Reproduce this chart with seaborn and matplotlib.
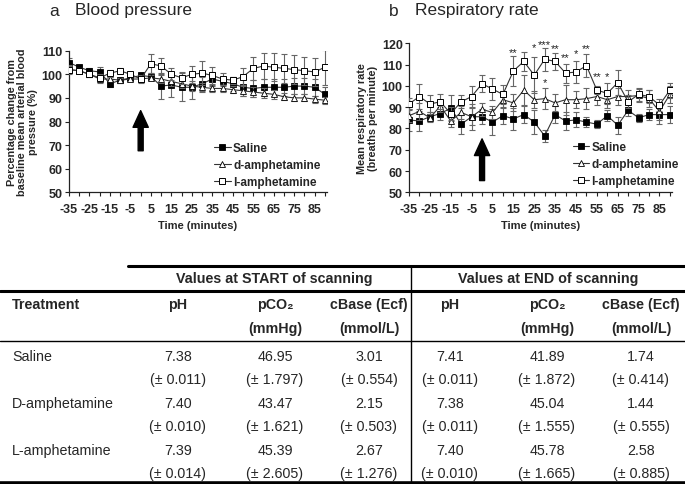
import numpy as np
import pandas as pd
import matplotlib
matplotlib.use("Agg")
import matplotlib.pyplot as plt
import seaborn as sns
from matplotlib.lines import Line2D

# ---------------- data ----------------
time = list(range(-35, 91, 5))
treatments = ["Saline", "d-amphetamine", "l-amphetamine"]

bp_saline = [105, 103, 101.5, 101, 96, 97.5, 98.5, 99.5, 99, 95, 95.5, 94.5, 94.5,
             96, 98, 97, 96, 94.5, 94, 94.5, 94.5, 94.5, 95, 95, 94.5, 91.5]
bp_damph = [102, 101.5, 100, 98, 98, 97.5, 98, 98, 98.5, 98, 97, 96, 95,
            94.5, 94, 94, 93.5, 93, 92.5, 92, 91.5, 90.5, 90, 90, 89.5, 89]
bp_lamph = [102, 101.5, 100, 98.5, 100.5, 101.5, 100, 98, 104.5, 103.5, 100, 98.5, 100,
            100.5, 99.5, 98, 97.5, 99, 102.5, 103.5, 103, 102.5, 102, 101.5, 101, 103]
bp_saline_err = [2, 1, 1, 2, 1.5, 1, 1, 1, 1.5, 5.5, 5, 6, 5,
                 3, 3, 2, 3, 3.5, 3.5, 3.5, 3.5, 3.5, 3.5, 3.5, 3.5, 3]
bp_damph_err = [1.5, 1, 1, 1.5, 1, 1, 1, 1, 1, 1.5, 2, 2, 2,
                2, 1.5, 1.5, 1.5, 2, 2, 2, 2, 1.5, 1.5, 1.5, 1.5, 1.5]
bp_lamph_err = [2, 1, 1, 1.5, 1.5, 1, 1, 1.5, 4, 3.5, 2.5, 2.5, 3.5,
                5, 3.5, 2.5, 1.5, 3.5, 5, 5.5, 6, 6, 6, 6, 6, 7.5]

rr_saline = [84, 83.5, 85.5, 87, 89.5, 82, 85.5, 85.5, 83, 86, 84.5, 86.5, 83,
             76.5, 86.5, 83.5, 84, 83, 82, 86, 81.5, 88.5, 85, 86.5, 86.5, 86.5]
rr_damph = [86, 88, 85, 90.5, 83.5, 87.5, 85.5, 89, 87.5, 93.5, 92, 98, 93.5,
            94, 92, 93.5, 93.5, 94, 95, 93.5, 95, 95, 95.5, 94, 88, 96]
rr_lamph = [91.5, 95, 91.5, 92.5, 87, 92.5, 95, 101, 98.5, 96, 107, 111.5, 105,
            112.5, 111.5, 106, 106.5, 109.5, 98, 96.5, 101.5, 92.5, 96, 95, 91, 98]
rr_saline_err = [5, 4.5, 2, 3, 6, 4.5, 6, 3.5, 6, 4, 5, 4, 5.5,
                 3, 4, 4, 3.5, 2.5, 2, 2.5, 4, 2.5, 2, 2.5, 4.5, 4]
rr_damph_err = [3, 4, 2, 3, 3, 3, 4, 3, 3, 4, 4, 7, 4,
                5, 4, 7, 4, 5, 4, 4, 4, 3, 3, 4, 4, 4]
rr_lamph_err = [3, 6, 4, 3.5, 3, 3, 5, 4, 5, 4.5, 7, 4.5, 8.5,
                5.5, 4, 4.5, 5, 5.5, 2, 5, 6, 3, 3, 3, 3, 3.5]

# significance marks (time, value, label)
sig_time = [15, 25, 30, 35, 40, 45, 50, 55, 60, 30]
sig_value = [117.3, 119.7, 121.0, 119.5, 115.3, 117.0, 119.5, 106.4, 106.4, 103.2]
sig_label = ["**", "*", "***", "**", "**", "*", "**", "**", "*", "*"]

# table
col_headers = ["pH", "pCO\u2082", "cBase (Ecf)", "pH", "pCO\u2082", "cBase (Ecf)"]
col_units = ["", "(mmHg)", "(mmol/L)", "", "(mmHg)", "(mmol/L)"]
row_names = ["Saline", "D-amphetamine", "L-amphetamine"]
table_values = [["7.38", "46.95", "3.01", "7.41", "41.89", "1.74"],
                ["7.40", "43.47", "2.15", "7.38", "45.04", "1.44"],
                ["7.39", "45.39", "2.67", "7.40", "45.78", "2.58"]]
table_sems = [["0.011", "1.797", "0.554", "0.011", "1.872", "0.414"],
              ["0.010", "1.621", "0.503", "0.011", "1.555", "0.555"],
              ["0.014", "2.605", "1.276", "0.010", "1.665", "0.885"]]

# ---------------- style ----------------
sns.set_theme(style="white")
plt.rcParams["font.family"] = ["Liberation Sans", "DejaVu Sans"]

fig = plt.figure(figsize=(6.85, 4.85), dpi=100)
W, H = 685, 485


def ax_rect(x0, x1, ytop, ybot):
    return [x0 / W, 1 - ybot / H, (x1 - x0) / W, (ybot - ytop) / H]


styles = {
    "Saline": dict(marker="s", markersize=4.4, markerfacecolor="black", mec="black", mew=0.6),
    "d-amphetamine": dict(marker="^", markersize=3.8, markerfacecolor="white", mec="black", mew=0.6),
    "l-amphetamine": dict(marker="s", markersize=5.0, markerfacecolor="white", mec="black", mew=0.7),
}


def draw_panel(ax, series, errs, ylim, yticks):
    df = pd.DataFrame({"time": time * 3,
                       "value": sum(series, []),
                       "treatment": sum([[t] * len(time) for t in treatments], [])})
    for i, t in enumerate(treatments):
        sub = df[df.treatment == t]
        ax.errorbar(sub.time, sub.value, yerr=errs[i], fmt="none", ecolor="#666666",
                    elinewidth=0.8, capsize=2.3, capthick=0.8, zorder=2 + i)
        sns.lineplot(data=sub, x="time", y="value", color="#333333", linewidth=0.8,
                     errorbar=None, estimator=None, ax=ax, zorder=3 + i, **styles[t])
    ax.set_xlim(-35, 91)
    ax.set_ylim(*ylim)
    ax.set_xticks(time)
    ax.set_xticklabels([str(t) if (t + 35) % 10 == 0 else "" for t in time])
    ax.set_yticks(yticks)
    ax.set_yticklabels([str(v) for v in yticks])
    for s in ["top", "right"]:
        ax.spines[s].set_visible(False)
    for s in ["left", "bottom"]:
        ax.spines[s].set_color("#222222")
        ax.spines[s].set_linewidth(0.9)
    ax.tick_params(axis="both", direction="out", length=3, width=0.8, color="#222222",
                   labelsize=9, bottom=True, left=True)
    ax.tick_params(axis="x", pad=4.5)
    ax.tick_params(axis="y", pad=1.5)
    for lab in ax.get_xticklabels() + ax.get_yticklabels():
        lab.set_fontweight("bold")
    ax.set_xlabel("Time (minutes)", fontsize=8, fontweight="bold", labelpad=3.5)
    handles = [Line2D([], [], color="#333333", linewidth=0.8, **styles[t]) for t in treatments]
    return handles


leg_kw = dict(loc="upper left", frameon=False, prop={"weight": "bold", "size": 8.5},
              handlelength=1.4, handletextpad=0.2, labelspacing=0.42, borderpad=0)

# Panel a
axa = fig.add_axes(ax_rect(69, 327, 51.7, 193.3))
ha = draw_panel(axa, [bp_saline, bp_damph, bp_lamph],
                [bp_saline_err, bp_damph_err, bp_lamph_err], (50, 110), list(range(50, 111, 10)))
axa.set_ylabel("Percentage change from\nbaseline mean arterial blood\npressure (%)",
               fontsize=7.8, fontweight="bold", labelpad=3, linespacing=1.05)
axa.legend(ha, treatments, bbox_to_anchor=(0.54, 0.395), **leg_kw)
axa.annotate("", xy=(0, 84.6), xytext=(0, 67.6),
             arrowprops=dict(width=3.6, headwidth=11, headlength=12, color="black"))

# Panel b
axb = fig.add_axes(ax_rect(409, 672, 44.3, 193.3))
hb = draw_panel(axb, [rr_saline, rr_damph, rr_lamph],
                [rr_saline_err, rr_damph_err, rr_lamph_err], (50, 120), list(range(50, 121, 10)))
axb.set_ylabel("Mean respiratory rate\n(breaths per minute)",
               fontsize=7.8, fontweight="bold", labelpad=3, linespacing=1.05)
axb.legend(hb, treatments, bbox_to_anchor=(0.6, 0.385), **leg_kw)
axb.annotate("", xy=(0, 75.1), xytext=(0, 55.5),
             arrowprops=dict(width=3.6, headwidth=11, headlength=12, color="black"))
for t, v, s in zip(sig_time, sig_value, sig_label):
    axb.text(t, v - 3, s, ha="center", va="baseline", fontsize=8, color="#222222")

# Titles
fig.text(49 / W, 1 - 11 / H, "a", fontsize=12.5, va="center", ha="left")
fig.text(75 / W, 1 - 11 / H, "Blood pressure", fontsize=12.5, va="center", ha="left")
fig.text(389 / W, 1 - 11 / H, "b", fontsize=12.5, va="center", ha="left")
fig.text(415 / W, 1 - 11 / H, "Respiratory rate", fontsize=12.5, va="center", ha="left")

# ---------------- table ----------------
tax = fig.add_axes([0, 0, 1, 1], zorder=-1)
tax.set_xlim(0, W)
tax.set_ylim(H, 0)
tax.axis("off")

col_x = [178, 275, 369, 450, 547, 641]
tax.plot([128, W], [267, 267], color="black", lw=2.2)
tax.plot([0, W], [292, 292], color="black", lw=2.2)
tax.plot([0, W], [342, 342], color="black", lw=1.0)
tax.plot([0, W], [484, 484], color="black", lw=2.6)
tax.plot([411, 411], [267, 485], color="black", lw=1.0)

fs = 10.3
tax.text(274, 279, "Values at START of scanning", ha="center", va="center",
         fontsize=fs, fontweight="bold")
tax.text(548, 279, "Values at END of scanning", ha="center", va="center",
         fontsize=fs, fontweight="bold")
tax.text(12, 305, "Treatment", ha="left", va="center", fontsize=fs, fontweight="bold")
for x, h, u in zip(col_x, col_headers, col_units):
    tax.text(x, 305, h, ha="center", va="center", fontsize=fs, fontweight="bold")
    if u:
        tax.text(x, 329, u, ha="center", va="center", fontsize=fs, fontweight="bold")

row_y = [357, 404, 451]
for y, name, vals, sems in zip(row_y, row_names, table_values, table_sems):
    tax.text(12, y, name, ha="left", va="center", fontsize=fs)
    for x, v, s in zip(col_x, vals, sems):
        tax.text(x, y, v, ha="center", va="center", fontsize=fs)
        tax.text(x, y + 23.5, "(\u00b1 " + s + ")", ha="center", va="center", fontsize=fs)

fig.savefig("out.png", dpi=100)
